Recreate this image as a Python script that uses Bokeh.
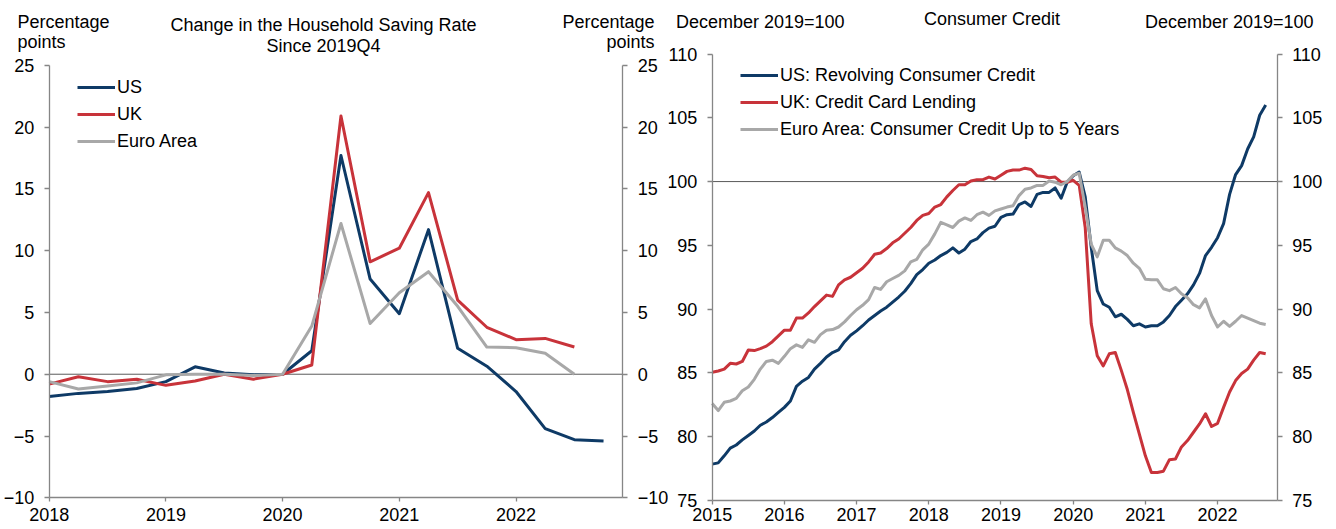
from bokeh.plotting import figure
from bokeh.models import LinearAxis, FixedTicker, Range1d, Label, Legend, LegendItem
from bokeh.layouts import row
from bokeh.embed import file_html
from bokeh.resources import INLINE
import pandas as pd

FONT = "Liberation Sans"
NAVY = "#0E3A66"
RED = "#C8333A"
GRAY = "#A8A8A8"
AXIS = "#868686"

# ---------------- Left chart data: change in household saving rate since 2019Q4 (pp)
quarters = ["2017Q4", "2018Q1", "2018Q2", "2018Q3", "2018Q4", "2019Q1", "2019Q2", "2019Q3",
            "2019Q4", "2020Q1", "2020Q2", "2020Q3", "2020Q4", "2021Q1", "2021Q2", "2021Q3",
            "2021Q4", "2022Q1", "2022Q2", "2022Q3"]
saving_us = [-1.8, -1.55, -1.4, -1.15, -0.6, 0.6, 0.1, -0.05, 0.0, 1.9,
             17.7, 7.7, 4.9, 11.7, 2.1, 0.65, -1.4, -4.4, -5.3, -5.4]
saving_uk = [-0.8, -0.2, -0.6, -0.4, -0.9, -0.55, 0.0, -0.4, 0.0, 0.75,
             20.9, 9.1, 10.2, 14.7, 6.0, 3.8, 2.8, 2.9, 2.2]
saving_ea = [-0.6, -1.2, -0.95, -0.7, -0.05, 0.0, 0.0, -0.1, 0.0, 3.9,
             12.2, 4.1, 6.6, 8.3, 5.5, 2.2, 2.15, 1.7, 0.0]
left_xticks = [2018, 2019, 2020, 2021, 2022]
left_yticks = [-10, -5, 0, 5, 10, 15, 20, 25]

# ---------------- Right chart data: consumer credit, Dec 2019 = 100 (monthly, Jan 2015 - Sep 2022)
credit_us = [77.85, 77.95, 78.5, 79.1, 79.35, 79.75, 80.1, 80.45, 80.9, 81.15, 81.5, 81.9,
             82.3, 82.8, 83.95, 84.35, 84.65, 85.3, 85.75, 86.25, 86.6, 86.8, 87.45, 87.95,
             88.3, 88.7, 89.15, 89.5, 89.85, 90.15, 90.55, 90.95, 91.4, 92.0, 92.7, 93.1,
             93.6, 93.85, 94.2, 94.45, 94.8, 94.4, 94.7, 95.3, 95.5, 96.0, 96.35, 96.5,
             97.2, 97.4, 97.45, 98.2, 98.4, 98.05, 99.0, 99.15, 99.15, 99.5, 98.7, 99.95,
             100.45, 100.75, 98.8, 94.85, 91.45, 90.4, 90.15, 89.4, 89.6, 89.2, 88.7, 88.85,
             88.6, 88.7, 88.7, 89.0, 89.5, 90.2, 90.7, 91.2, 91.9, 92.8, 94.2, 94.85,
             95.6, 96.7, 99.0, 100.55, 101.25, 102.55, 103.5, 105.2, 106.0]
credit_uk = [85.05, 85.15, 85.3, 85.75, 85.7, 85.9, 86.8, 86.75, 86.9, 87.1, 87.45, 87.9,
             88.35, 88.35, 89.3, 89.3, 89.7, 90.2, 90.65, 91.1, 91.0, 91.9, 92.3, 92.5,
             92.85, 93.2, 93.7, 94.3, 94.4, 94.75, 95.2, 95.5, 95.95, 96.4, 96.95, 97.35,
             97.5, 98.0, 98.2, 98.8, 99.3, 99.75, 99.75, 100.05, 100.15, 100.15, 100.35, 100.2,
             100.5, 100.8, 100.9, 100.9, 101.05, 100.95, 100.45, 100.4, 100.3, 100.35, 99.95, 99.95,
             100.1, 99.7, 96.4, 88.85, 86.35, 85.55, 86.5, 86.6, 85.2, 83.7, 81.9, 80.2,
             78.5, 77.2, 77.2, 77.3, 78.2, 78.25, 79.2, 79.7, 80.35, 81.0, 81.8, 80.8,
             81.05, 82.3, 83.5, 84.4, 84.95, 85.3, 86.0, 86.6, 86.5]
credit_ea = [82.6, 82.05, 82.7, 82.8, 83.0, 83.6, 83.9, 84.5, 85.3, 85.9, 86.0, 85.75,
             86.3, 86.9, 87.2, 87.0, 87.6, 87.4, 88.0, 88.35, 88.4, 88.6, 89.0, 89.5,
             89.95, 90.3, 90.75, 91.7, 91.55, 92.15, 92.4, 92.65, 93.0, 93.7, 93.9, 94.65,
             95.1, 95.9, 96.8, 96.6, 96.4, 96.9, 97.15, 96.95, 97.4, 97.6, 97.35, 97.7,
             97.85, 98.0, 98.1, 98.9, 99.4, 99.5, 99.7, 99.7, 100.05, 99.95, 99.75, 100.0,
             100.5, 100.65, 98.0, 95.1, 94.1, 95.4, 95.4, 94.8, 94.55, 94.2, 93.6, 93.2,
             92.35, 92.3, 92.3, 91.6, 91.45, 91.7, 91.2, 90.9, 90.35, 90.1, 90.8, 89.5,
             88.6, 89.05, 88.65, 89.05, 89.5, 89.3, 89.1, 88.9, 88.8]
right_xticks = [2015, 2016, 2017, 2018, 2019, 2020, 2021, 2022]
right_yticks = [75, 80, 85, 90, 95, 100, 105, 110]

# positions: quarter values plotted at quarter end, months at month start
qx = [int(q[:4]) + int(q[-1]) / 4 for q in quarters]
months = pd.period_range("2015-01", periods=len(credit_us), freq="M")
mx = [m.year + (m.month - 1) / 12 for m in months]

# ---------------- layout constants (pixels): the frame covers each whole canvas,
# the axes are pinned at the edges of the data extent
W, H = 668, 529


def style_axis(ax, ticks, standoff, tick_out=5):
    ax.ticker = FixedTicker(ticks=ticks)
    ax.axis_line_color = AXIS
    ax.axis_line_width = 1.3
    ax.major_tick_line_color = AXIS
    ax.major_tick_line_width = 1.3
    ax.major_tick_in = 0
    ax.major_tick_out = tick_out
    ax.minor_tick_line_color = None
    ax.major_label_text_font = FONT
    ax.major_label_text_font_size = "18px"
    ax.major_label_text_color = "black"
    ax.major_label_standoff = standoff


def make_fig(x0, x1, px0, px1, y0, y1, py0, py1, xticks, yticks, x_standoff):
    # x0 at canvas pixel px0, x1 at px1; y0 at canvas row py0, y1 at py1 (rows from the top)
    sx = (px1 - px0) / (x1 - x0)
    xr = Range1d(x0 - px0 / sx, x0 + (W - px0) / sx)
    sy = (py0 - py1) / (y1 - y0)
    yr = Range1d(y0 - (H - py0) / sy, y1 + py1 / sy)
    p = figure(width=W, height=H, x_range=xr, y_range=yr,
               output_backend="svg", toolbar_location=None,
               min_border_left=0, min_border_right=0,
               min_border_top=0, min_border_bottom=0)
    p.xgrid.visible = False
    p.ygrid.visible = False
    p.outline_line_color = None
    p.background_fill_color = "white"
    p.border_fill_color = "white"
    xa = p.xaxis[0]
    style_axis(xa, xticks, x_standoff, tick_out=4)
    xa.bounds = (x0, x1)
    xa.fixed_location = y0
    ya = p.yaxis[0]
    style_axis(ya, yticks, 10)
    ya.bounds = (y0, y1)
    ya.fixed_location = x0
    ra = LinearAxis(bounds=(y0, y1), fixed_location=x1)
    style_axis(ra, yticks, 10)
    p.add_layout(ra, "right")
    return p


def add_text(p, text, x, y_base, align):
    # x from the canvas left, y_base: baseline distance from the canvas top
    p.add_layout(Label(x=x, y=H - y_base, x_units="screen", y_units="screen", text=text,
                       text_font=FONT, text_font_size="18px", text_color="black",
                       text_align=align, text_baseline="alphabetic"))


def add_legend(p, items, x, top_row_center):
    n = len(items)
    row_h, gap = 21, 6
    h = n * row_h + (n - 1) * gap
    lg = Legend(items=items, location=(x, H - top_row_center - h + row_h / 2),
                glyph_width=38, glyph_height=20,
                label_height=20, label_standoff=2, spacing=gap, padding=0, margin=0,
                border_line_color=None, background_fill_alpha=0,
                label_text_font=FONT, label_text_font_size="18px",
                label_text_color="black")
    p.add_layout(lg)


# ---------------- Left figure
LX0, LX1 = 2018, 2022.915
p1 = make_fig(LX0, LX1, 48.7, 622.3, -10, 25, 497.3, 64.8, left_xticks, left_yticks, 6)
p1.segment(x0=[LX0], y0=[0], x1=[LX1], y1=[0], line_color="#5a5a5a", line_width=1)
l_us = p1.line(qx, saving_us, line_color=NAVY, line_width=3, line_join="round")
l_uk = p1.line(qx[:len(saving_uk)], saving_uk, line_color=RED, line_width=3, line_join="round")
l_ea = p1.line(qx[:len(saving_ea)], saving_ea, line_color=GRAY, line_width=3, line_join="round")
add_legend(p1, [LegendItem(label="US", renderers=[l_us]),
                LegendItem(label="UK", renderers=[l_uk]),
                LegendItem(label="Euro Area", renderers=[l_ea])], 77, 87.3)
add_text(p1, "Percentage", 17, 21.5, "left")
add_text(p1, "points", 17, 41.5, "left")
add_text(p1, "Change in the Household Saving Rate", 323, 24, "center")
add_text(p1, "Since 2019Q4", 323, 45, "center")
add_text(p1, "Percentage", 654, 21.5, "right")
add_text(p1, "points", 654, 41.5, "right")

# ---------------- Right figure
RX0, RX1 = 2015, 2022.826
p2 = make_fig(RX0, RX1, 43.7, 608.7, 75, 110, 500, 53.5, right_xticks, right_yticks, 3)
p2.segment(x0=[RX0], y0=[100], x1=[RX1], y1=[100], line_color="#5a5a5a", line_width=1)
c_us = p2.line(mx, credit_us, line_color=NAVY, line_width=3, line_join="round")
c_uk = p2.line(mx, credit_uk, line_color=RED, line_width=3, line_join="round")
c_ea = p2.line(mx, credit_ea, line_color=GRAY, line_width=3, line_join="round")
add_legend(p2, [LegendItem(label="US: Revolving Consumer Credit", renderers=[c_us]),
                LegendItem(label="UK: Credit Card Lending", renderers=[c_uk]),
                LegendItem(label="Euro Area: Consumer Credit Up to 5 Years", renderers=[c_ea])],
           72, 75)
add_text(p2, "December 2019=100", 7.5, 21.5, "left")
add_text(p2, "Consumer Credit", 323.5, 18, "center")
add_text(p2, "December 2019=100", 645, 21.5, "right")

layout = row(p1, p2)
open("out.html", "w").write(file_html(layout, INLINE))
